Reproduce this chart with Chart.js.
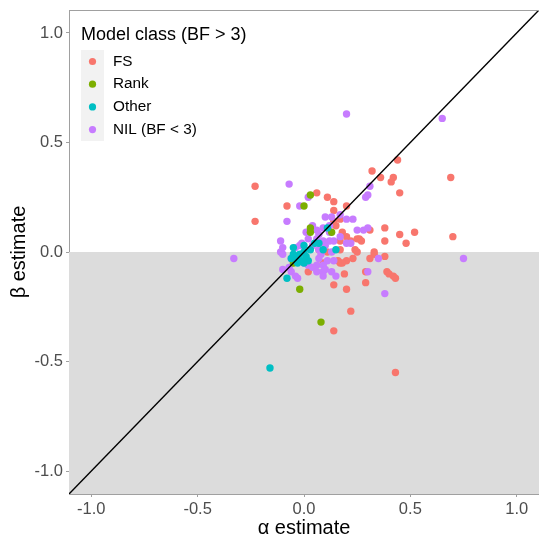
<!DOCTYPE html>
<html>
<head>
<meta charset="utf-8">
<script src="https://cdn.jsdelivr.net/npm/chart.js@4"></script>
<style>
  body { margin: 0; background: #fff; }
  #wrap { width: 539px; height: 538px; }
</style>
</head>
<body>
<div id="wrap"><canvas id="scatterChart" width="539" height="538"></canvas></div>
<script>
// series names and colours (ggplot default hues)
const classNames = ['FS', 'Rank', 'Other', 'NIL (BF < 3)'];
const classColors = ['#F8766D', '#7CAE00', '#00BFC4', '#C77CFF'];

// [alpha, beta] estimates
const fsPoints = [
  [-0.23, 0.30], [-0.23, 0.14], [0.06, 0.27], [0.11, 0.25], [0.14, 0.23], [-0.08, 0.21],
  [0.20, 0.21], [0.14, 0.19], [0.32, 0.37], [0.36, 0.34], [0.42, 0.34], [0.41, 0.32],
  [0.45, 0.27], [0.44, 0.42], [0.69, 0.34], [0.38, 0.11], [0.38, 0.05], [0.45, 0.08],
  [0.52, 0.09], [0.70, 0.07], [0.48, 0.04], [0.38, -0.02], [0.15, 0.12], [0.14, 0.14],
  [0.17, 0.15], [0.18, 0.09], [0.20, 0.07], [0.31, 0.10], [0.26, 0.06], [0.27, 0.05],
  [0.17, 0.05], [0.22, 0.05], [0.25, 0.06], [0.24, 0.01], [0.25, 0.00], [0.33, 0.00],
  [0.33, -0.01], [0.31, -0.03], [0.23, -0.03], [0.20, -0.04], [0.17, -0.05], [0.18, -0.05],
  [0.16, -0.04], [0.09, -0.05], [0.17, 0.01], [0.11, 0.00], [0.02, -0.09], [0.19, -0.10],
  [0.29, -0.09], [0.39, -0.09], [0.40, -0.10], [0.42, -0.11], [0.43, -0.12], [0.29, -0.14],
  [0.14, -0.15], [0.20, -0.17], [0.22, -0.27], [0.14, -0.36], [0.43, -0.55], [0.07, 0.01]
];
const rankPoints = [
  [0.03, 0.26], [0.00, 0.21], [0.03, 0.11], [0.03, 0.09], [0.13, 0.09],
  [-0.05, -0.05], [-0.03, -0.02], [-0.02, -0.17], [0.08, -0.32]
];
const otherPoints = [
  [-0.16, -0.53], [-0.08, -0.12], [0.15, 0.01], [0.09, 0.01], [0.11, 0.11],
  [-0.05, -0.01], [-0.03, -0.03], [-0.02, -0.01], [0.00, 0.00], [0.01, -0.02],
  [0.02, -0.04], [-0.01, -0.04], [-0.03, -0.05], [0.00, 0.03], [0.03, 0.01],
  [0.05, 0.04], [0.07, 0.04], [-0.06, -0.03], [0.00, -0.05], [-0.05, 0.02]
];
const nilPoints = [
  [0.20, 0.63], [0.65, 0.61], [-0.07, 0.31], [-0.02, 0.21], [0.02, 0.25], [0.31, 0.30],
  [0.29, 0.25], [0.30, 0.26], [-0.08, 0.14], [0.10, 0.16], [0.13, 0.16], [0.17, 0.17],
  [0.20, 0.15], [0.23, 0.15], [0.04, 0.12], [0.09, 0.11], [0.12, 0.12], [0.25, 0.10],
  [0.28, 0.10], [0.30, 0.11], [0.12, 0.09], [-0.11, 0.05], [-0.01, 0.04], [0.02, 0.06],
  [0.06, 0.06], [0.09, 0.05], [0.12, 0.05], [0.14, 0.05], [0.20, 0.04], [-0.10, 0.02],
  [-0.04, 0.02], [-0.02, 0.03], [0.07, 0.01], [0.08, -0.01], [0.13, 0.00], [-0.11, 0.00],
  [-0.10, -0.01], [-0.33, -0.03], [0.75, -0.03], [-0.06, -0.03], [0.07, -0.03], [0.11, -0.04],
  [0.14, -0.04], [0.35, -0.03], [0.06, -0.06], [0.09, -0.06], [0.00, -0.05], [0.02, -0.06],
  [0.04, -0.07], [0.13, -0.09], [0.06, -0.09], [0.09, -0.09], [0.09, -0.11], [0.15, -0.11],
  [0.30, -0.09], [-0.10, -0.08], [-0.07, -0.07], [-0.06, -0.09], [-0.04, -0.11], [-0.03, -0.12],
  [0.38, -0.19], [0.10, -0.08], [0.17, 0.07], [0.22, 0.04], [0.06, 0.10], [0.07, 0.08],
  [0.01, 0.09], [0.04, 0.03], [0.10, 0.03]
];

const axisMin = -1.105;
const axisMax = 1.105;
const tickValues = [-1, -0.5, 0, 0.5, 1];
const tickLabels = ['-1.0', '-0.5', '0.0', '0.5', '1.0'];

const toXY = arr => arr.map(p => ({ x: p[0], y: p[1] }));
const seriesData = [fsPoints, rankPoints, otherPoints, nilPoints];
const drawOrder = [4, 2, 1, 3]; // cyan on top, red at the bottom

const FONT = "'Liberation Sans', Arial, sans-serif";

// grey rectangle below beta = 0, plus top border of the panel
const panelBits = {
  id: 'panelBits',
  beforeDatasetsDraw(chart) {
    const { ctx, chartArea: a, scales } = chart;
    const y0 = scales.y.getPixelForValue(0);
    ctx.save();
    ctx.fillStyle = '#DCDCDC';
    ctx.fillRect(a.left, y0, a.right - a.left, a.bottom - y0);
    ctx.restore();
  },
  afterDraw(chart) {
    const { ctx, chartArea: a } = chart;
    ctx.save();
    ctx.strokeStyle = '#A0A0A0';
    ctx.lineWidth = 1;
    ctx.beginPath();
    ctx.moveTo(a.left, a.top + 0.5);
    ctx.lineTo(a.right, a.top + 0.5);
    ctx.stroke();
    ctx.restore();
  }
};

// ggplot-style legend inside the panel
const insideLegend = {
  id: 'insideLegend',
  afterDraw(chart) {
    const { ctx } = chart;
    ctx.save();
    ctx.textBaseline = 'middle';
    ctx.textAlign = 'left';
    ctx.fillStyle = '#000';
    ctx.font = '18px ' + FONT;
    ctx.fillText('Model class (BF > 3)', 81, 35);
    ctx.fillStyle = '#F2F2F2';
    ctx.fillRect(81, 50, 23, 91);
    ctx.font = '15.3px ' + FONT;
    classNames.forEach((name, i) => {
      const cy = 61.5 + i * 22.7;
      ctx.fillStyle = classColors[i];
      ctx.beginPath();
      ctx.arc(92.5, cy, 3.6, 0, Math.PI * 2);
      ctx.fill();
      ctx.fillStyle = '#000';
      ctx.fillText(name, 113, cy);
    });
    ctx.restore();
  }
};

const datasets = seriesData.map((pts, i) => ({
  type: 'scatter',
  label: classNames[i],
  data: toXY(pts),
  backgroundColor: classColors[i],
  borderWidth: 0,
  pointRadius: 3.7,
  order: drawOrder[i]
}));

// y = x reference line
datasets.push({
  type: 'line',
  label: 'identity',
  data: [{ x: -2, y: -2 }, { x: 2, y: 2 }],
  borderColor: '#000',
  borderWidth: 1.4,
  pointRadius: 0,
  fill: false,
  order: 0
});

function axisOptions(titleText, titlePadding) {
  return {
    type: 'linear',
    min: axisMin,
    max: axisMax,
    afterBuildTicks: scale => { scale.ticks = tickValues.map(v => ({ value: v })); },
    ticks: {
      callback: (v) => tickLabels[tickValues.indexOf(v)],
      color: '#4D4D4D',
      font: { family: FONT, size: 16.5 },
      padding: 3,
      maxRotation: 0,
      autoSkip: false
    },
    grid: {
      drawOnChartArea: false,
      drawTicks: true,
      tickLength: 3,
      color: '#A0A0A0'
    },
    border: { display: true, color: '#A0A0A0', width: 1 },
    title: {
      display: true,
      text: titleText,
      color: '#000',
      font: { family: FONT, size: 20 },
      padding: titlePadding
    }
  };
}

const xAxis = axisOptions('α estimate', { top: 0, bottom: -2 });
xAxis.afterFit = s => { s.height = 44; s.paddingLeft = 0; s.paddingRight = 0; };
const yAxis = axisOptions('β estimate', { top: 7, bottom: 0 });
yAxis.afterFit = s => { s.width = 69; s.paddingTop = 0; s.paddingBottom = 0; };

new Chart(document.getElementById('scatterChart').getContext('2d'), {
  data: { datasets: datasets },
  options: {
    responsive: false,
    animation: false,
    layout: { autoPadding: false, padding: { top: 10, right: 0, left: 0, bottom: 0 } },
    plugins: {
      legend: { display: false },
      tooltip: { enabled: false }
    },
    scales: { x: xAxis, y: yAxis }
  },
  plugins: [panelBits, insideLegend]
});
</script>
</body>
</html>
